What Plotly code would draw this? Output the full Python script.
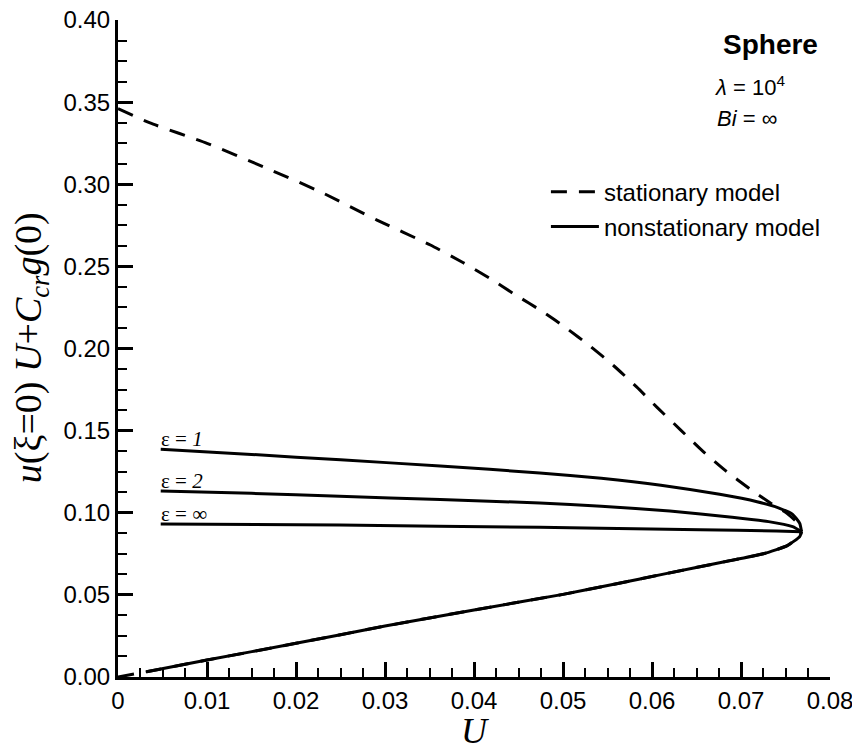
import plotly.graph_objects as go

# ---------------- data ----------------
# stationary model, upper branch (from U=0 down to the turning point)
stat_upper_U = [0.0, 0.0036, 0.0100, 0.0163, 0.0227, 0.0291, 0.0351, 0.0388, 0.0417, 0.0447,
                0.0477, 0.0504, 0.0530, 0.0557, 0.0583, 0.0606, 0.0632, 0.0657, 0.0683, 0.0710,
                0.0733, 0.0752, 0.0764, 0.0768]
stat_upper_Y = [0.346, 0.3373, 0.3249, 0.3107, 0.2955, 0.2782, 0.2630, 0.2522, 0.2430, 0.2325,
                0.2225, 0.2123, 0.2017, 0.1895, 0.1765, 0.1640, 0.1505, 0.1375, 0.1255, 0.1145,
                0.1060, 0.0995, 0.0935, 0.0885]

# lower branch (common to all models), from U=0 to the turning point
lower_U = [0.0, 0.0032, 0.0100, 0.0200, 0.0300, 0.0400, 0.0500, 0.0553, 0.0617, 0.0680,
           0.0725, 0.0752, 0.0766, 0.0768]
lower_Y = [0.0, 0.0032, 0.0103, 0.0205, 0.0310, 0.0408, 0.0503, 0.0560, 0.0631, 0.0700,
           0.0750, 0.0800, 0.0855, 0.0885]

# nonstationary model, upper branches
eps1_U = [0.0048, 0.0150, 0.0250, 0.0362, 0.0474, 0.0543, 0.0610, 0.0676, 0.0718, 0.0742,
          0.0758, 0.0766, 0.0768]
eps1_Y = [0.1386, 0.1355, 0.1322, 0.1285, 0.1242, 0.1210, 0.1168, 0.1112, 0.1067, 0.1030,
          0.0990, 0.0935, 0.0885]
eps2_U = [0.0048, 0.0150, 0.0249, 0.0362, 0.0474, 0.0543, 0.0620, 0.0690, 0.0731, 0.0758,
          0.0768]
eps2_Y = [0.1132, 0.1118, 0.1100, 0.1080, 0.1060, 0.1040, 0.1010, 0.0972, 0.0946, 0.0915,
          0.0885]
epsinf_U = [0.0048, 0.0249, 0.0474, 0.0543, 0.0654, 0.0740, 0.0768]
epsinf_Y = [0.0932, 0.0925, 0.0911, 0.0905, 0.0896, 0.0889, 0.0885]

curve_labels = ["ε = <i>1</i>", "ε = <i>2</i>", "ε = ∞"]

x_tickvals = [0, 0.01, 0.02, 0.03, 0.04, 0.05, 0.06, 0.07, 0.08]
x_ticktext = ["0", "0.01", "0.02", "0.03", "0.04", "0.05", "0.06", "0.07", "0.08"]
y_tickvals = [0.0, 0.05, 0.10, 0.15, 0.20, 0.25, 0.30, 0.35, 0.40]
y_ticktext = ["0.00", "0.05", "0.10", "0.15", "0.20", "0.25", "0.30", "0.35", "0.40"]

# ---------------- figure ----------------
SANS = "Liberation Sans, Arial, sans-serif"
SERIF = "Liberation Serif, Times New Roman, serif"
LW = 3
DASH = "16px,12px"

fig = go.Figure()

# stationary model: lower branch first (dash phase from the origin), then upper branch
fig.add_trace(go.Scatter(x=lower_U, y=lower_Y, mode="lines",
                         line=dict(color="black", width=LW, dash=DASH, shape="spline", smoothing=0.5),
                         showlegend=False, legendgroup="stat", hoverinfo="skip"))
fig.add_trace(go.Scatter(x=stat_upper_U, y=stat_upper_Y, mode="lines",
                         line=dict(color="black", width=LW, dash=DASH, shape="spline", smoothing=0.5),
                         name="stationary model", legendgroup="stat", legend="legend"))

# nonstationary model
for i, (u, y) in enumerate([(eps1_U, eps1_Y), (eps2_U, eps2_Y), (epsinf_U, epsinf_Y)]):
    fig.add_trace(go.Scatter(x=u, y=y, mode="lines",
                             line=dict(color="black", width=LW, shape="spline", smoothing=0.5),
                             name="nonstationary model", legendgroup="nonstat",
                             showlegend=(i == 0), legend="legend2"))
    fig.add_annotation(x=u[0], y=y[0], xref="x", yref="y", text=curve_labels[i],
                       showarrow=False, xanchor="left", yanchor="bottom", yshift=-4, xshift=-2,
                       font=dict(family=SERIF, size=21, color="black"))

lower_solid_U = lower_U[1:]
lower_solid_Y = lower_Y[1:]
fig.add_trace(go.Scatter(x=lower_solid_U, y=lower_solid_Y, mode="lines",
                         line=dict(color="black", width=LW, shape="spline", smoothing=0.5),
                         showlegend=False, legendgroup="nonstat", hoverinfo="skip"))

# text block top right
fig.add_annotation(x=0.986, y=0.962, xref="paper", yref="paper", text="<b>Sphere</b>",
                   showarrow=False, xanchor="right", yanchor="middle",
                   font=dict(family=SANS, size=28, color="black"))
fig.add_annotation(x=0.836, y=0.900, xref="paper", yref="paper", text="<i>λ</i> = 10<sup>4</sup>",
                   showarrow=False, xanchor="left", yanchor="middle",
                   font=dict(family=SANS, size=22, color="black"))
fig.add_annotation(x=0.839, y=0.850, xref="paper", yref="paper", text="<i>Bi</i> = ∞",
                   showarrow=False, xanchor="left", yanchor="middle",
                   font=dict(family=SANS, size=22, color="black"))

# y-axis title (rotated annotation)
fig.add_annotation(x=-0.1222, y=0.502, xref="paper", yref="paper",
                   text="<i>u</i>(ξ=0) <i>U</i>+<i>C</i><sub><i>cr</i></sub><i>g</i>(0)",
                   textangle=-90, showarrow=False, xanchor="center", yanchor="middle",
                   font=dict(family=SERIF, size=38, color="black"))

axis_common = dict(
    showgrid=False, zeroline=False, showline=True, linecolor="black", linewidth=3,
    ticks="inside", ticklen=15, tickwidth=3, tickcolor="black",
    tickfont=dict(family=SANS, size=24, color="black"),
    mirror=False, automargin=False, ticklabeloverflow="allow",
)

fig.update_layout(
    width=852, height=743,
    margin=dict(l=110, r=30, t=12, b=74),
    paper_bgcolor="white", plot_bgcolor="white",
    xaxis=dict(range=[0, 0.08], tickmode="array", tickvals=x_tickvals, ticktext=x_ticktext,
               minor=dict(ticks="inside", ticklen=9, tickwidth=1.5, tickcolor="black", dtick=0.0025),
               title=dict(text="<i>U</i>", font=dict(family=SERIF, size=36, color="black"), standoff=0),
               **axis_common),
    yaxis=dict(range=[0, 0.40], tickmode="array", tickvals=y_tickvals, ticktext=y_ticktext,
               minor=dict(ticks="inside", ticklen=9, tickwidth=1.5, tickcolor="black", dtick=0.0125),
               **axis_common),
    legend=dict(x=0.601, y=0.738, xanchor="left", yanchor="middle", itemwidth=48,
                bgcolor="rgba(0,0,0,0)", font=dict(family=SANS, size=24, color="black")),
    legend2=dict(x=0.601, y=0.685, xanchor="left", yanchor="middle", itemwidth=48,
                 bgcolor="rgba(0,0,0,0)", font=dict(family=SANS, size=24, color="black")),
)

fig.write_html("out.html")
